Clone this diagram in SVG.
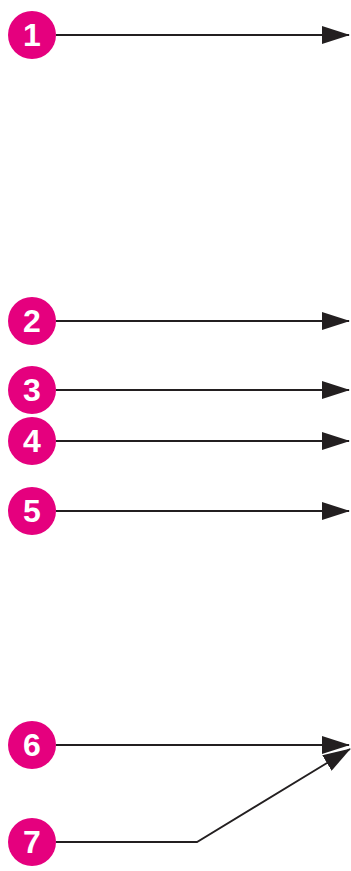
<svg xmlns="http://www.w3.org/2000/svg" width="351" height="871" viewBox="0 0 351 871">
<style>
.b{fill:#E5007E}
.t{fill:#fff;font-family:"Liberation Sans",Arial,sans-serif;font-weight:bold;font-size:32px;text-anchor:middle}
.c{fill:none;stroke:#231F20;stroke-width:1.8}
</style>
<defs>
<marker id="ah" viewBox="0 0 28 18" refX="27" refY="9" markerWidth="28" markerHeight="18" markerUnits="userSpaceOnUse" orient="auto">
<path d="M0,0 L28,9 L0,18 Z" fill="#231F20"/>
</marker>
</defs>
<g id="connectors">
<line class="c" x1="56" y1="35" x2="349" y2="35" marker-end="url(#ah)"/>
<line class="c" x1="56" y1="321" x2="349" y2="321" marker-end="url(#ah)"/>
<line class="c" x1="56" y1="390" x2="349" y2="390" marker-end="url(#ah)"/>
<line class="c" x1="56" y1="441" x2="349" y2="441" marker-end="url(#ah)"/>
<line class="c" x1="56" y1="511" x2="349" y2="511" marker-end="url(#ah)"/>
<line class="c" x1="56" y1="745" x2="349" y2="745" marker-end="url(#ah)"/>
<polyline class="c" points="56,842 197,842 350,749" marker-end="url(#ah)"/>
</g>
<g id="n1"><circle class="b" cx="32" cy="35" r="24"/><text class="t" x="32" y="46">1</text></g>
<g id="n2"><circle class="b" cx="32" cy="321" r="24"/><text class="t" x="32" y="332">2</text></g>
<g id="n3"><circle class="b" cx="32" cy="390" r="24"/><text class="t" x="32" y="401">3</text></g>
<g id="n4"><circle class="b" cx="32" cy="441" r="24"/><text class="t" x="32" y="452">4</text></g>
<g id="n5"><circle class="b" cx="32" cy="511" r="24"/><text class="t" x="32" y="522">5</text></g>
<g id="n6"><circle class="b" cx="32" cy="745" r="24"/><text class="t" x="32" y="756">6</text></g>
<g id="n7"><circle class="b" cx="32" cy="842" r="24"/><text class="t" x="32" y="853">7</text></g>
</svg>
